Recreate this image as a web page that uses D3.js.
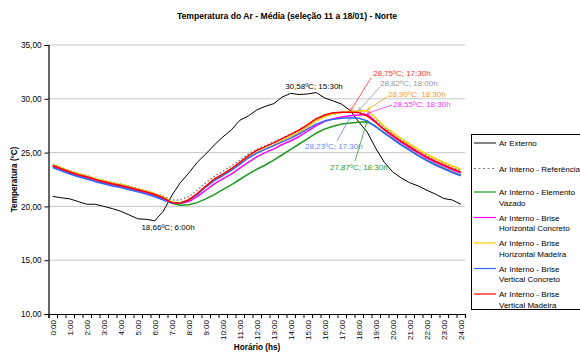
<!DOCTYPE html>
<html lang="pt">
<head>
<meta charset="UTF-8">
<title>Temperatura do Ar - Média - Norte</title>
<script src="https://d3js.org/d3.v7.min.js"></script>
<style>
  body { margin: 0; background: #fff; }
  text { font-family: "Liberation Sans", Arial, sans-serif; }
</style>
</head>
<body>
<svg width="580" height="354"></svg>
<script>
// categories: half-hour steps 0:00 .. 24:00
const categories = ["0:00","0:30","1:00","1:30","2:00","2:30","3:00","3:30","4:00","4:30",
  "5:00","5:30","6:00","6:30","7:00","7:30","8:00","8:30","9:00","9:30","10:00","10:30",
  "11:00","11:30","12:00","12:30","13:00","13:30","14:00","14:30","15:00","15:30","16:00",
  "16:30","17:00","17:30","18:00","18:30","19:00","19:30","20:00","20:30","21:00","21:30",
  "22:00","22:30","23:00","23:30","24:00"];

const yTicks = [10, 15, 20, 25, 30, 35];

// series values (ºC)
const arExterno = [20.93,20.8,20.7,20.45,20.2,20.2,20.0,19.8,19.55,19.2,18.85,18.8,18.66,19.55,
  21.0,22.2,23.1,24.1,24.87,25.7,26.45,27.1,28.0,28.4,28.96,29.3,29.55,30.17,30.5,30.4,30.45,
  30.58,30.07,29.8,29.5,28.9,27.85,26.9,25.4,24.1,23.2,22.64,22.2,21.9,21.5,21.15,20.73,20.6,20.2];

const referencia = [23.93,23.62,23.32,23.07,22.87,22.62,22.42,22.22,22.07,21.87,21.67,21.47,21.22,20.95,
  20.6,20.6,20.9,21.5,22.2,22.8,23.25,23.75,24.3,24.85,25.3,25.65,26.0,26.35,26.7,27.1,27.55,
  28.05,28.4,28.6,28.72,28.78,28.82,28.55,27.95,27.3,26.75,26.2,25.7,25.2,24.75,24.35,24.0,23.65,23.35];

const elementoVazado = [23.7,23.4,23.1,22.85,22.65,22.4,22.2,22.0,21.85,21.65,21.45,21.25,21.0,20.7,
  20.3,20.1,20.15,20.35,20.7,21.1,21.55,22.0,22.5,23.0,23.45,23.85,24.3,24.8,25.3,25.8,26.3,
  26.8,27.2,27.45,27.65,27.75,27.82,27.87,27.45,26.85,26.3,25.75,25.25,24.75,24.3,23.9,23.55,23.2,22.9];

const horizConcreto = [23.75,23.45,23.15,22.9,22.7,22.45,22.25,22.05,21.9,21.7,21.5,21.3,21.05,20.75,
  20.35,20.3,20.45,20.9,21.5,22.1,22.55,23.0,23.55,24.1,24.6,25.0,25.35,25.75,26.1,26.5,27.0,
  27.5,27.9,28.15,28.3,28.42,28.5,28.55,27.85,27.1,26.5,25.95,25.45,24.95,24.5,24.1,23.75,23.4,23.1];

const horizMadeira = [23.88,23.58,23.28,23.03,22.83,22.58,22.38,22.18,22.03,21.83,21.63,21.43,21.18,20.88,
  20.4,20.35,20.65,21.15,21.85,22.45,22.9,23.4,23.95,24.5,25.0,25.35,25.7,26.1,26.5,26.9,27.4,
  27.95,28.35,28.6,28.75,28.82,28.87,28.9,28.2,27.45,26.85,26.3,25.8,25.3,24.85,24.45,24.1,23.75,23.45];

const vertConcreto = [23.6,23.3,23.0,22.75,22.55,22.3,22.1,21.9,21.75,21.55,21.35,21.15,20.9,20.6,
  20.3,20.3,20.6,21.1,21.8,22.4,22.85,23.35,23.9,24.5,24.95,25.3,25.65,26.0,26.35,26.75,27.2,
  27.65,27.95,28.1,28.2,28.23,28.2,27.95,27.4,26.8,26.25,25.7,25.2,24.7,24.25,23.85,23.5,23.15,22.85];

const vertMadeira = [23.8,23.5,23.2,22.95,22.75,22.5,22.3,22.1,21.95,21.75,21.55,21.35,21.1,20.8,
  20.35,20.3,20.6,21.2,21.9,22.55,23.0,23.5,24.1,24.7,25.2,25.55,25.9,26.3,26.7,27.1,27.6,
  28.15,28.5,28.7,28.75,28.75,28.72,28.4,27.8,27.15,26.6,26.05,25.55,25.05,24.6,24.2,23.85,23.5,23.2];

const seriesNames = ["Ar Externo", "Ar Interno - Referência", "Ar Interno - Elemento Vazado",
  "Ar Interno - Brise Horizontal Concreto", "Ar Interno - Brise Horizontal Madeira",
  "Ar Interno - Brise Vertical Concreto", "Ar Interno - Brise Vertical Madeira"];
const seriesValues = [arExterno, referencia, elementoVazado, horizConcreto, horizMadeira, vertConcreto, vertMadeira];

// highlighted points: series index, category index
const highlights = [[0, 31], [0, 12], [6, 35], [1, 36], [4, 37], [3, 37], [5, 35], [2, 37]];

// ---- layout / styles ----
const svg = d3.select("svg");
const font = "Liberation Sans, Arial, sans-serif";
const plot = { left: 48.5, right: 465, top: 45, bottom: 314 };

const styles = [
  { color: "#000000", width: 1, dash: null },
  { color: "#808080", width: 1.5, dash: "1.5,2.2" },
  { color: "#1f9a1f", width: 1.5, dash: null },
  { color: "#ff00ff", width: 1.5, dash: null },
  { color: "#ffcc00", width: 1.5, dash: null },
  { color: "#3366ff", width: 1.5, dash: null },
  { color: "#ff0000", width: 1.5, dash: null }
];

const x = d3.scaleLinear().domain([0, categories.length]).range([plot.left, plot.right]);
const xc = i => x(i + 0.5);
const y = d3.scaleLinear().domain([10, 35]).range([plot.bottom, plot.top]);

// title
svg.append("text")
  .attr("x", 287).attr("y", 19)
  .attr("text-anchor", "middle")
  .attr("font-size", 8.6).attr("font-weight", "bold")
  .text("Temperatura do Ar - Média (seleção 11 a 18/01) - Norte");

// grid
svg.append("g").selectAll("line")
  .data(yTicks.filter(d => d > 10))
  .join("line")
  .attr("x1", plot.left).attr("x2", plot.right)
  .attr("y1", d => y(d)).attr("y2", d => y(d))
  .attr("stroke", "#c8c8c8").attr("stroke-width", 1);

// y axis
const yAxis = svg.append("g")
  .attr("transform", `translate(${plot.left},0)`)
  .call(d3.axisLeft(y).tickValues(yTicks).tickSize(4).tickPadding(3)
    .tickFormat(d => d3.format(".2f")(d).replace(".", ",")));
yAxis.select(".domain").attr("stroke", "#000").attr("stroke-width", 1.2);
yAxis.selectAll("text").attr("font-size", 8.2).attr("font-family", font).attr("fill", "#000");

// x axis: ticks on category boundaries
const xAxis = svg.append("g")
  .attr("transform", `translate(0,${plot.bottom})`)
  .call(d3.axisBottom(x).tickValues(d3.range(0, categories.length + 1)).tickSize(4).tickFormat(""));
xAxis.select(".domain").attr("stroke", "#000").attr("stroke-width", 1.2);

// x labels every hour, rotated
svg.append("g").selectAll("text")
  .data(categories.map((c, i) => [c, i]).filter(d => d[1] % 2 === 0))
  .join("text")
  .attr("transform", d => `translate(${xc(d[1]) + 3},${plot.bottom + 6}) rotate(-90)`)
  .attr("text-anchor", "end")
  .attr("font-size", 8)
  .text(d => d[0]);

// axis titles
svg.append("text")
  .attr("x", 257).attr("y", 350)
  .attr("text-anchor", "middle")
  .attr("font-size", 8.2).attr("font-weight", "bold")
  .text("Horário (hs)");
svg.append("text")
  .attr("transform", `translate(17,${(plot.top + plot.bottom) / 2}) rotate(-90)`)
  .attr("text-anchor", "middle")
  .attr("font-size", 8.2).attr("font-weight", "bold")
  .text("Temperatura (ºC)");

// lines
const line = d3.line().x((d, i) => xc(i)).y(d => y(d));
seriesValues.forEach((vals, s) => {
  svg.append("path")
    .datum(vals)
    .attr("d", line)
    .attr("fill", "none")
    .attr("stroke", styles[s].color)
    .attr("stroke-width", styles[s].width)
    .attr("stroke-dasharray", styles[s].dash)
    .attr("stroke-linejoin", "round");
});

// annotations (label start / arrow start in px)
const labelCfg = [
  { color: "#000", tx: 314, ty: 89, anchor: "middle" },
  { color: "#000", tx: 168, ty: 230, anchor: "middle" },
  { color: "#ff3333", tx: 373, ty: 76, ax: 371, ay: 78 },
  { color: "#999999", tx: 380, ty: 86, ax: 380, ay: 87 },
  { color: "#f5a020", tx: 388, ty: 97, ax: 387, ay: 97 },
  { color: "#ff33ff", tx: 393, ty: 107, ax: 392, ay: 105 },
  { color: "#5c8cff", tx: 305, ty: 149, ax: 337, ay: 141 },
  { color: "#2e9a2e", tx: 330, ty: 170, ax: 355, ay: 161 }
];

const defs = svg.append("defs");
labelCfg.forEach((c, k) => {
  defs.append("marker")
    .attr("id", "arr" + k)
    .attr("viewBox", "0 0 10 10")
    .attr("refX", 9).attr("refY", 5)
    .attr("markerWidth", 5).attr("markerHeight", 5)
    .attr("orient", "auto")
    .append("path")
    .attr("d", "M1,1 L9,5 L1,9")
    .attr("fill", "none")
    .attr("stroke", c.color)
    .attr("stroke-width", 1.5);
});

highlights.forEach(([s, i], k) => {
  const c = labelCfg[k];
  const v = seriesValues[s][i];
  const label = d3.format(".2f")(v).replace(".", ",") + "ºC; " + categories[i] + "h";
  if (c.ax !== undefined) {
    svg.append("line")
      .attr("x1", c.ax).attr("y1", c.ay)
      .attr("x2", xc(i)).attr("y2", y(v) - 1)
      .attr("stroke", c.color).attr("stroke-width", 0.8)
      .attr("marker-end", `url(#arr${k})`);
  }
  svg.append("text")
    .attr("x", c.tx).attr("y", c.ty)
    .attr("text-anchor", c.anchor || "start")
    .attr("font-size", 8)
    .attr("fill", c.color)
    .text(label);
});

// legend
const legend = svg.append("g");
legend.append("rect")
  .attr("x", 471.5).attr("y", 134.5)
  .attr("width", 120).attr("height", 175)
  .attr("fill", "#fff").attr("stroke", "#000").attr("stroke-width", 1);

const legendLines = [
  ["Ar Externo"], ["Ar Interno - Referência"], ["Ar Interno - Elemento", "Vazado"],
  ["Ar Interno - Brise", "Horizontal Concreto"], ["Ar Interno - Brise", "Horizontal Madeira"],
  ["Ar Interno - Brise", "Vertical Concreto"], ["Ar Interno - Brise", "Vertical Madeira"]
];
const legendY = [143, 168.5, 192, 217.5, 243, 268.5, 294];

legendLines.forEach((lines, s) => {
  const ly = legendY[s];
  legend.append("line")
    .attr("x1", 474).attr("x2", 496)
    .attr("y1", ly).attr("y2", ly)
    .attr("stroke", s === 0 ? "#333" : styles[s].color)
    .attr("stroke-width", 1.2)
    .attr("stroke-dasharray", s === 1 ? "2,2.5" : null);
  lines.forEach((t, j) => {
    legend.append("text")
      .attr("x", 499).attr("y", ly + 3 + j * 10.5)
      .attr("font-size", 8)
      .text(t);
  });
});
</script>
</body>
</html>
